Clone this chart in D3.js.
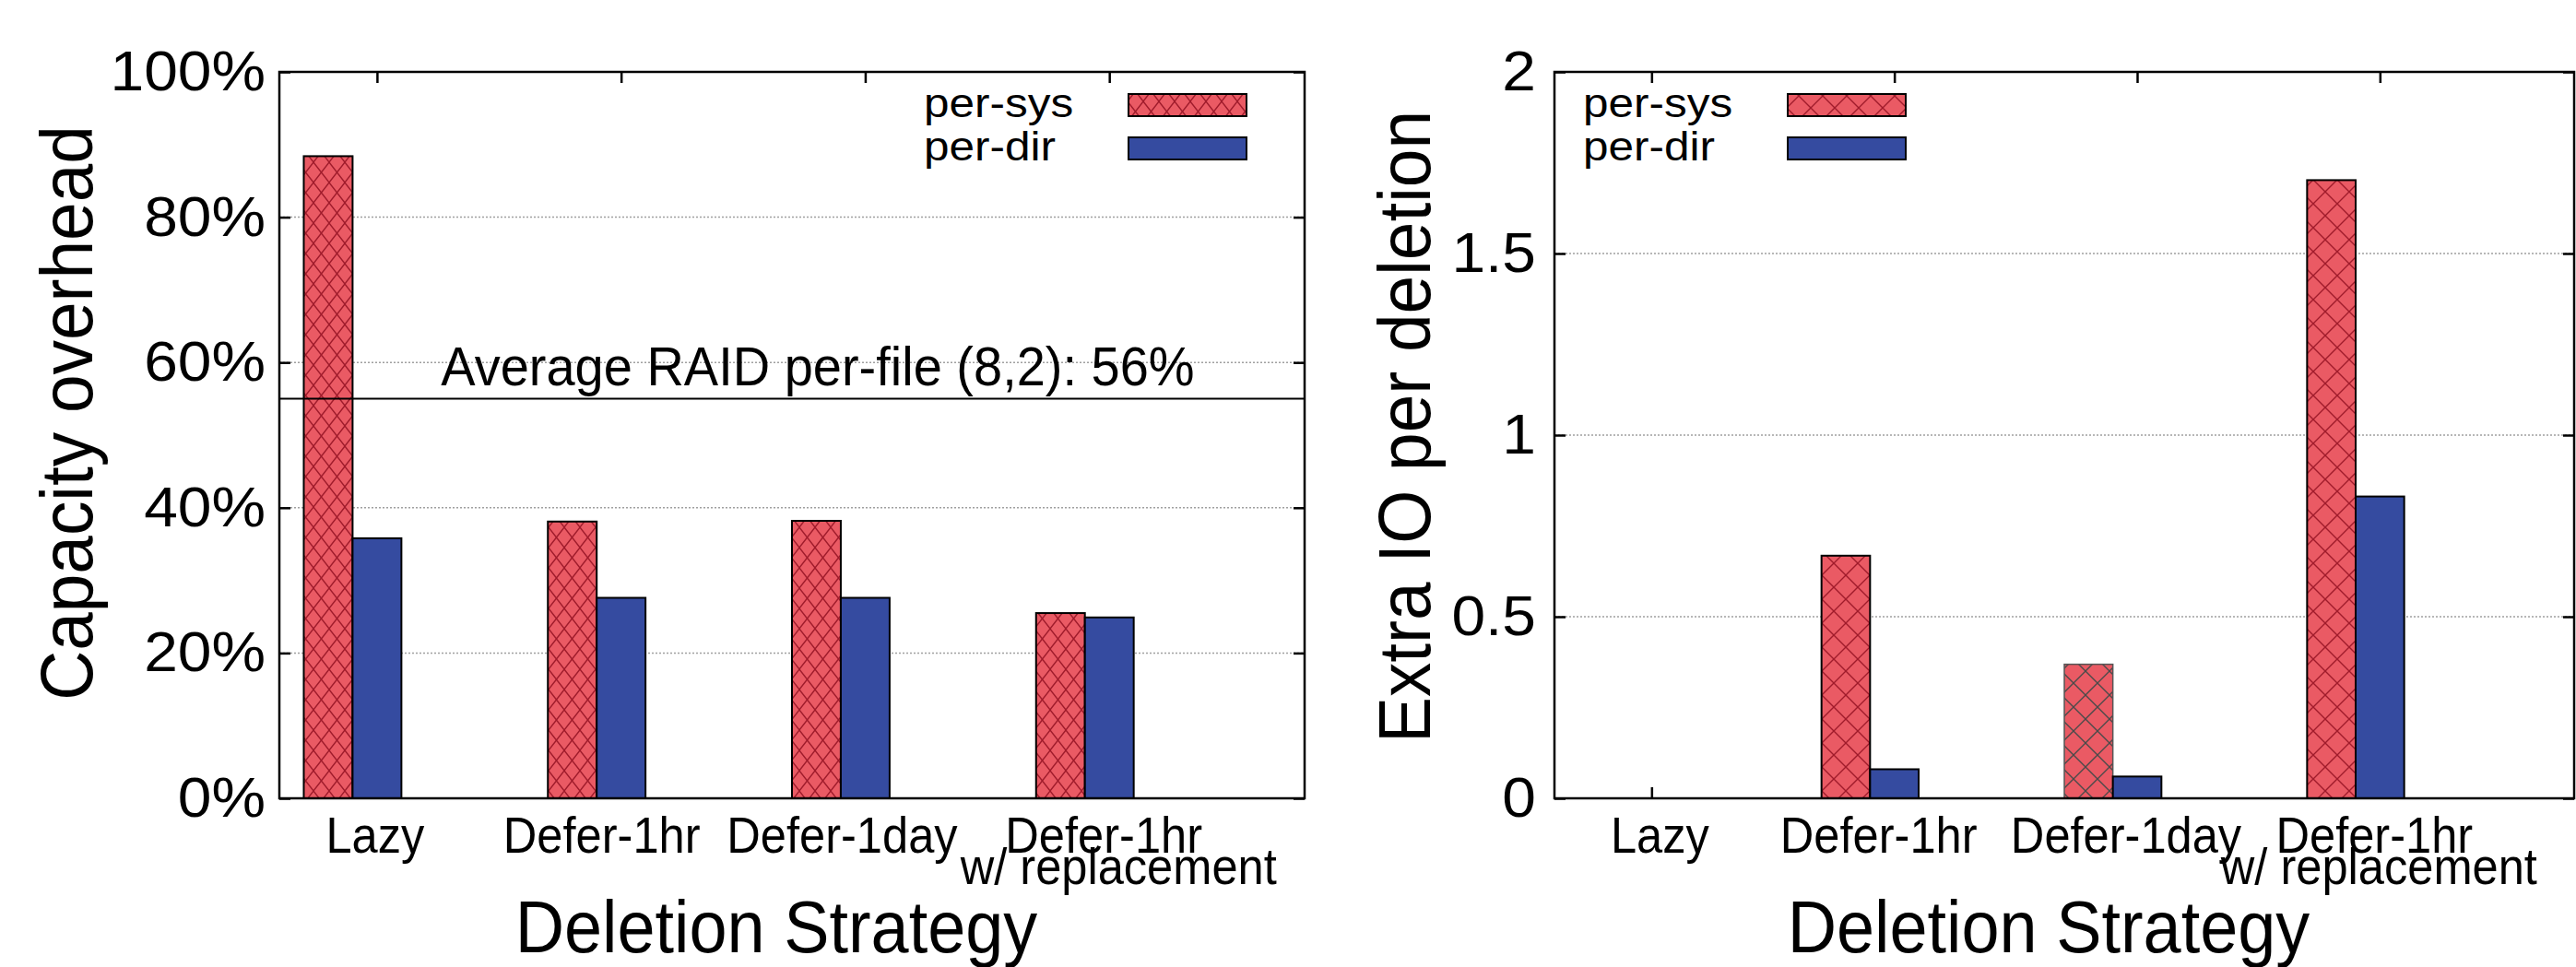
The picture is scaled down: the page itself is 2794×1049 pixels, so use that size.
<!DOCTYPE html>
<html>
<head>
<meta charset="utf-8">
<script src="https://cdn.jsdelivr.net/npm/d3@7"></script>
<style>
  body { margin: 0; background: #fff; }
  text { font-family: "Liberation Sans", Arial, Helvetica, sans-serif; fill: #000; }
</style>
</head>
<body>
<svg id="chart" width="2794" height="1049"></svg>
<script>
// data
const categories = ["Lazy", "Defer-1hr", "Defer-1day", "Defer-1hr\nw/ replacement"];
const seriesNames = ["per-sys", "per-dir"];

const capacitySys = [88.4, 38.1, 38.2, 25.5];
const capacityDir = [35.8, 27.6, 27.6, 24.9];
const capacityTicks = [0, 20, 40, 60, 80, 100];

const extraIoSys = [0, 0.668, 0.369, 1.702];
const extraIoDir = [0, 0.080, 0.060, 0.831];
const extraIoTicks = [0, 0.5, 1, 1.5, 2];

const raidAverage = 55;
const raidLabel = "Average RAID per-file (8,2): 56%";

const red = "#ea5a64", redLine = "#a01b2b", blue = "#354ba0";
const plotTop = 78, plotBottom = 866;

var svg = d3.select("#chart");
var defs = svg.append("defs");

function hatch(id, w, h, line) {
  var p = defs.append("pattern")
    .attr("id", id)
    .attr("patternUnits", "userSpaceOnUse")
    .attr("width", w).attr("height", h);
  p.append("rect").attr("width", w).attr("height", h).attr("fill", red);
  p.append("path")
    .attr("d", `M0,0L${w},${h}M${w},0L0,${h}`)
    .attr("stroke", line).attr("stroke-width", 1.4).attr("fill", "none");
}
hatch("hatchL", 17, 22, redLine);
hatch("hatchR", 26, 26, redLine);
hatch("hatchGrey", 26, 26, "#4a4a4a");

// the gnuplot font is a bit narrower/taller (or wider for tick numbers) than Arial
function fit(sel, size, widthFactor) {
  sel.attr("font-size", size).each(function() {
    var len = this.getComputedTextLength();
    d3.select(this).attr("textLength", len * widthFactor).attr("lengthAdjust", "spacingAndGlyphs");
  });
}

const panels = [
  { left: 303, right: 1415, sys: capacitySys, dir: capacityDir, ticks: capacityTicks,
    fmt: d => d + "%", pad: 15, title: "Capacity overhead", titleX: 100, titleY: 448,
    legendX: 1002, hatch: "hatchL", raid: true,
    labelDx: [[-2], [-21], [-25], [-6, 10]] },
  { left: 1686, right: 2792, sys: extraIoSys, dir: extraIoDir, ticks: extraIoTicks,
    fmt: d => String(d), pad: 20, title: "Extra IO per deletion", titleX: 1551, titleY: 463,
    legendX: 1717, hatch: "hatchR", raid: false, greyIndex: 2,
    labelDx: [[9], [-17], [-12], [-6, -1]] }
];

panels.forEach(function(p) {
  var g = svg.append("g");
  var maxV = p.ticks[p.ticks.length - 1];
  var x = d3.scaleLinear().domain([-0.4, 3.8]).range([p.left, p.right]);
  var y = d3.scaleLinear().domain([0, maxV]).range([plotBottom, plotTop]);
  var idx = d3.range(categories.length);

  // dotted grid
  g.append("g").selectAll("line")
    .data(p.ticks.filter(t => t > 0 && t < maxV))
    .join("line")
      .attr("x1", p.left).attr("x2", p.right)
      .attr("y1", d => y(d)).attr("y2", d => y(d))
      .attr("stroke", "#a0a0a0").attr("stroke-width", 1.5)
      .attr("stroke-dasharray", "2,2");

  // inward ticks on all four sides
  var yl = g.append("g").attr("transform", `translate(${p.left},0)`)
    .call(d3.axisLeft(y).tickValues(p.ticks).tickFormat(p.fmt).tickSize(-12).tickSizeOuter(0).tickPadding(p.pad));
  yl.selectAll("text").attr("dy", "0.32em")
    .attr("font-family", "Liberation Sans, Arial, sans-serif").attr("fill", "#000")
    .call(fit, 61, 1.08);
  g.append("g").attr("transform", `translate(${p.right},0)`)
    .call(d3.axisRight(y).tickValues(p.ticks).tickFormat("").tickSize(-12).tickSizeOuter(0));
  g.append("g").attr("transform", `translate(0,${plotTop})`)
    .call(d3.axisTop(x).tickValues(idx).tickFormat("").tickSize(-12).tickSizeOuter(0));
  g.append("g").attr("transform", `translate(0,${plotBottom})`)
    .call(d3.axisBottom(x).tickValues(idx).tickFormat("").tickSize(-12).tickSizeOuter(0));
  g.selectAll(".domain").remove();
  g.selectAll(".tick line").attr("stroke", "#000").attr("stroke-width", 2.5);

  // bars
  g.append("g").selectAll("rect")
    .data(idx)
    .join("rect")
      .attr("x", i => x(i - 0.3))
      .attr("width", i => x(i - 0.1) - x(i - 0.3))
      .attr("y", i => y(p.sys[i]))
      .attr("height", i => y(0) - y(p.sys[i]))
      .attr("fill", i => i === p.greyIndex ? "url(#hatchGrey)" : `url(#${p.hatch})`)
      .attr("stroke", i => i === p.greyIndex ? "#555" : "#000")
      .attr("stroke-width", i => i === p.greyIndex ? 1.5 : 2);
  g.append("g").selectAll("rect")
    .data(idx)
    .join("rect")
      .attr("x", i => x(i - 0.1))
      .attr("width", i => x(i + 0.1) - x(i - 0.1))
      .attr("y", i => y(p.dir[i]))
      .attr("height", i => y(0) - y(p.dir[i]))
      .attr("fill", blue).attr("stroke", "#000").attr("stroke-width", 2);

  if (p.raid) {
    g.append("line")
      .attr("x1", p.left).attr("x2", p.right)
      .attr("y1", y(raidAverage)).attr("y2", y(raidAverage))
      .attr("stroke", "#000").attr("stroke-width", 2);
    g.append("text")
      .attr("x", 887).attr("y", y(raidAverage) - 15)
      .attr("text-anchor", "middle")
      .text(raidLabel)
      .call(fit, 60, 0.933);
  }

  // frame
  g.append("rect")
    .attr("x", p.left).attr("y", plotTop)
    .attr("width", p.right - p.left).attr("height", plotBottom - plotTop)
    .attr("fill", "none").attr("stroke", "#000").attr("stroke-width", 2.5);

  // x category labels, one text per line
  var lines = [];
  idx.forEach(i => categories[i].split("\n").forEach((s, k) => lines.push({ i: i, k: k, s: s })));
  g.append("g").selectAll("text")
    .data(lines)
    .join("text")
      .attr("text-anchor", "middle")
      .attr("x", d => x(d.i) + p.labelDx[d.i][d.k])
      .attr("y", d => 925 + d.k * 34)
      .text(d => d.s)
      .call(fit, 55, 0.92);

  // axis titles
  g.append("text")
    .attr("transform", `translate(${p.titleX},${p.titleY}) rotate(-90)`)
    .attr("text-anchor", "middle")
    .text(p.title)
    .call(fit, 80, 0.935);
  g.append("text")
    .attr("x", (p.left + p.right) / 2 - 17).attr("y", 1033)
    .attr("text-anchor", "middle")
    .text("Deletion Strategy")
    .call(fit, 79, 0.935);

  // legend
  var key = g.append("g").selectAll("g")
    .data(seriesNames)
    .join("g")
      .attr("transform", (d, k) => `translate(${p.legendX},${k * 47})`);
  key.append("text")
    .attr("x", 0).attr("y", 127)
    .text(d => d)
    .call(fit, 45, 1.1);
  key.append("rect")
    .attr("x", 222).attr("y", 102)
    .attr("width", 128).attr("height", 24)
    .attr("fill", (d, k) => k === 0 ? `url(#${p.hatch})` : blue)
    .attr("stroke", "#000").attr("stroke-width", 2);
});
</script>
</body>
</html>
